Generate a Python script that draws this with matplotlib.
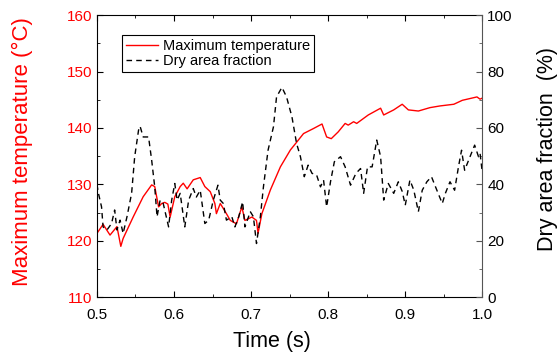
import matplotlib
matplotlib.use("Agg")
import matplotlib.pyplot as plt
from matplotlib.ticker import MultipleLocator

plt.rcParams['font.family'] = ['Liberation Sans', 'DejaVu Sans']

# maximum temperature (deg C) vs time (s)
t_temp = [0.500, 0.508, 0.517, 0.526, 0.531, 0.534, 0.547, 0.560, 0.571, 0.575,
          0.580, 0.584, 0.588, 0.592, 0.595, 0.601, 0.608, 0.612, 0.617, 0.625,
          0.634, 0.640, 0.647, 0.653, 0.655, 0.660, 0.668, 0.673, 0.681, 0.688,
          0.692, 0.701, 0.707, 0.709, 0.714, 0.725, 0.738, 0.751, 0.7575, 0.768,
          0.781, 0.792, 0.798, 0.804, 0.813, 0.822, 0.826, 0.833, 0.837, 0.852,
          0.868, 0.872, 0.885, 0.896, 0.904, 0.917, 0.932, 0.945, 0.963, 0.974,
          0.993, 0.997, 1.000]
temp = [121.3, 122.9, 121.0, 122.5, 119.0, 120.4, 124.2, 127.8, 129.9, 129.6,
        126.0, 126.6, 126.8, 126.5, 124.2, 127.8, 129.6, 130.2, 129.2, 130.8,
        131.2, 129.6, 128.7, 126.6, 124.8, 126.6, 124.8, 123.6, 123.0, 126.0,
        123.6, 124.2, 123.6, 121.3, 124.8, 129.0, 133.1, 136.1, 137.2, 139.0,
        139.9, 140.7, 138.4, 138.1, 139.3, 140.8, 140.5, 141.1, 140.8, 142.3,
        143.5, 142.3, 143.2, 144.2, 143.2, 143.0, 143.6, 143.9, 144.2, 144.9,
        145.5, 145.1, 145.3]

# dry area fraction (%) vs time (s)
t_dry = [0.500, 0.502, 0.506, 0.508, 0.513, 0.519, 0.523, 0.526, 0.530, 0.534,
         0.539, 0.545, 0.549, 0.554, 0.556, 0.560, 0.567, 0.571, 0.575, 0.578,
         0.582, 0.586, 0.593, 0.597, 0.601, 0.604, 0.608, 0.614, 0.619, 0.625,
         0.629, 0.634, 0.640, 0.645, 0.651, 0.657, 0.660, 0.664, 0.668, 0.675,
         0.679, 0.684, 0.689, 0.692, 0.699, 0.703, 0.707, 0.712, 0.716, 0.722,
         0.729, 0.733, 0.740, 0.746, 0.753, 0.759, 0.764, 0.769, 0.774, 0.779,
         0.785, 0.790, 0.794, 0.798, 0.803, 0.808, 0.816, 0.822, 0.829, 0.836,
         0.842, 0.846, 0.851, 0.857, 0.863, 0.868, 0.872, 0.878, 0.885, 0.891,
         0.896, 0.900, 0.906, 0.911, 0.917, 0.922, 0.928, 0.934, 0.941, 0.948,
         0.952, 0.958, 0.964, 0.969, 0.973, 0.977, 0.984, 0.990, 0.995, 0.997,
         1.000]
dry = [40.0, 36.8, 32.0, 24.9, 23.8, 26.1, 30.9, 23.8, 27.3, 22.6,
       28.5, 36.8, 49.8, 59.2, 60.6, 56.8, 56.8, 48.6, 39.1, 28.5,
       34.4, 33.2, 24.9, 34.4, 40.3, 34.4, 36.8, 24.9, 34.4, 38.5,
       35.5, 37.9, 26.1, 27.3, 34.4, 39.7, 34.4, 33.2, 27.3, 28.5,
       24.9, 28.5, 33.8, 24.9, 30.3, 28.5, 19.0, 28.5, 39.1, 52.1,
       60.4, 71.0, 74.4, 71.0, 63.9, 54.5, 49.8, 42.7, 46.8, 43.9,
       43.3, 39.1, 41.5, 32.0, 40.9, 48.0, 49.8, 46.2, 39.7, 43.9,
       45.6, 36.8, 46.2, 46.2, 55.7, 49.8, 34.4, 40.3, 36.8, 40.9,
       37.5, 32.6, 41.5, 38.0, 30.3, 37.9, 40.9, 42.7, 37.9, 33.2,
       36.8, 40.9, 37.9, 46.2, 52.1, 45.0, 49.8, 53.9, 49.8, 51.0,
       44.0]

fig, ax = plt.subplots(figsize=(5.57, 3.61), dpi=100)
fig.subplots_adjust(left=0.174, right=0.866, top=0.958, bottom=0.177)
ax2 = ax.twinx()

l1, = ax.plot(t_temp, temp, color='red', lw=1.0, label='Maximum temperature')
l2, = ax2.plot(t_dry, dry, color='black', lw=1.0, ls=(0, (4, 3)), label='Dry area fraction')

ax.set_xlim(0.5, 1.0)
ax.set_ylim(110, 160)
ax2.set_ylim(0, 100)
ax.xaxis.set_major_locator(MultipleLocator(0.1))
ax.xaxis.set_minor_locator(MultipleLocator(0.05))
ax.yaxis.set_major_locator(MultipleLocator(10))
ax.yaxis.set_minor_locator(MultipleLocator(5))
ax2.yaxis.set_major_locator(MultipleLocator(20))
ax2.yaxis.set_minor_locator(MultipleLocator(10))

ax.spines['right'].set_visible(False)
ax2.spines['right'].set_color('#555555')
for s in ['left', 'top', 'bottom']:
    ax2.spines[s].set_visible(False)

ax.tick_params(which='both', direction='in', top=True)
ax.tick_params(which='major', length=4, labelsize=11)
ax.tick_params(which='minor', length=2)
ax.tick_params(axis='x', which='major', pad=8)
ax.tick_params(axis='y', labelcolor='red')
ax2.tick_params(which='both', direction='in', color='#555555')
ax2.tick_params(which='major', length=4, labelsize=11)
ax2.tick_params(which='minor', length=2)

ax.set_xlabel('Time (s)', fontsize=15.5)
ax.xaxis.set_label_coords(0.455, -0.12)
ax.set_ylabel('Maximum temperature (°C)', fontsize=16, color='red')
ax.yaxis.set_label_coords(-0.167, 0.515)
ax2.set_ylabel('Dry area fraction  (%)', fontsize=15.5)
ax2.yaxis.set_label_coords(1.143, 0.525)

leg = ax.legend(handles=[l1, l2], loc='upper left', bbox_to_anchor=(0.065, 0.929),
                fontsize=10.5, fancybox=False, edgecolor='black', framealpha=1,
                borderpad=0.25, handlelength=2.2, handletextpad=0.35,
                labelspacing=0.1, borderaxespad=0)
leg.get_frame().set_linewidth(0.8)

fig.savefig('out.png', dpi=100)
